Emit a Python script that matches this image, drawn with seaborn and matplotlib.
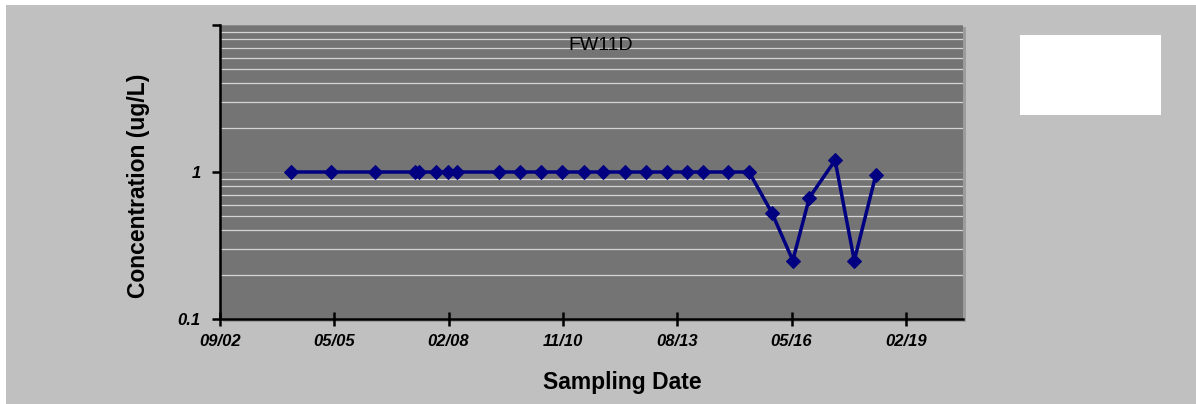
import matplotlib
matplotlib.use("Agg")
import matplotlib.pyplot as plt
import matplotlib.dates as mdates
from matplotlib.ticker import FixedLocator, LogLocator, NullFormatter
from matplotlib.patches import Rectangle
from matplotlib.font_manager import FontProperties
import numpy as np
import pandas as pd
import seaborn as sns

# Sampling dates and measured concentrations for well FW11D
sample_dates = [
    "2004-05-15", "2005-05-02", "2006-05-16", "2007-05-07", "2007-06-08",
    "2007-11-01", "2008-02-18", "2008-05-04", "2009-05-06", "2009-11-06",
    "2010-05-06", "2010-11-06", "2011-05-20", "2011-11-05", "2012-05-13",
    "2012-11-10", "2013-05-13", "2013-11-10", "2014-03-30", "2014-11-04",
    "2015-05-04", "2015-11-19", "2016-05-21", "2016-10-13", "2017-05-26",
    "2017-11-10", "2018-05-18",
]
concentration = [
    1, 1, 1, 1, 1,
    1, 1, 1, 1, 1,
    1, 1, 1, 1, 1,
    1, 1, 1, 1, 1,
    1, 0.53, 0.25, 0.67, 1.2,
    0.25, 0.96,
]
well_name = "FW11D"
y_tick_values = [0.1, 1, 10]
y_tick_labels = ["0.1", "1", ""]
x_start = "2002-09-01"
x_end = "2020-06-18"
x_tick_step_days = 1000
x_tick_count = 7

df = pd.DataFrame({"date": pd.to_datetime(sample_dates), "conc": concentration})

W, H = 1196, 404
fig = plt.figure(figsize=(W / 100, H / 100), dpi=100)
fig.patch.set_facecolor("white")

# chart area backdrop (light gray), soft shadow behind the plot area, empty legend box
fig.patches.append(Rectangle((6 / W, 0), 1 - 6 / W, 1 - 5 / H, transform=fig.transFigure,
                             facecolor="#c0c0c0", edgecolor="none", zorder=-10))
fig.patches.append(Rectangle((223 / W, 1 - 322 / H), (966 - 223) / W, (322 - 27) / H,
                             transform=fig.transFigure, facecolor="#9c9c9c",
                             edgecolor="none", zorder=-6))
fig.patches.append(Rectangle((1020 / W, 1 - 115 / H), 141 / W, 80 / H, transform=fig.transFigure,
                             facecolor="white", edgecolor="none", zorder=-5))

ax = fig.add_axes([220 / W, 1 - 319 / H, (963 - 220) / W, (319 - 25) / H])
ax.set_zorder(2)
ax.set_facecolor("#747474")

sns.lineplot(data=df, x="date", y="conc", ax=ax, color="#000080", linewidth=2.5,
             marker="D", markersize=7, markeredgecolor="#000080",
             markerfacecolor="#000080", estimator=None, zorder=5)

ax.set_yscale("log")
ax.set_ylim(0.1, 10)
ax.yaxis.set_major_locator(FixedLocator(y_tick_values))
ax.set_yticklabels(y_tick_labels)
ax.yaxis.set_minor_locator(LogLocator(base=10, subs=np.arange(2, 10)))
ax.yaxis.set_minor_formatter(NullFormatter())
ax.grid(which="minor", axis="y", color="#d4d4d4", linewidth=0.9)
ax.grid(which="major", axis="y", color="#8c8c8c", linewidth=0.7)
ax.grid(which="both", axis="x", visible=False)
ax.set_axisbelow(True)

x0 = pd.Timestamp(x_start)
ax.set_xlim(x0, pd.Timestamp(x_end))
xticks = pd.date_range(x0, periods=x_tick_count, freq=f"{x_tick_step_days}D")
ax.xaxis.set_major_locator(FixedLocator(mdates.date2num(xticks)))
ax.xaxis.set_major_formatter(mdates.DateFormatter("%m/%y"))

for side in ("top", "right"):
    ax.spines[side].set_visible(False)
for side in ("left", "bottom"):
    ax.spines[side].set_color("black")
    ax.spines[side].set_linewidth(1.8)

tick_font = FontProperties(family="Liberation Sans", weight="bold", style="italic", size=12)
ax.tick_params(axis="x", which="major", direction="inout", length=10, width=1.8,
               color="black", pad=6)
ax.tick_params(axis="y", which="major", direction="out", length=6, width=1.8,
               color="black", pad=8)
ax.tick_params(axis="y", which="minor", length=0)
for lbl in ax.get_xticklabels() + ax.get_yticklabels():
    lbl.set_fontproperties(tick_font)

label_font = dict(family="Liberation Sans", weight="bold", size=16.5)
ax.set_xlabel("Sampling Date", va="center", **label_font)
ax.set_ylabel("Concentration (ug/L)", va="center", **label_font)
ax.xaxis.set_label_coords((622 - 220) / 743, (319 - 382) / 294)
ax.yaxis.set_label_coords((139 - 220) / 743, (319 - 186) / 294)

ax.text((601 - 220) / 743, (319 - 46) / 294, well_name, transform=ax.transAxes,
        ha="center", va="center", family="Liberation Sans", size=14, color="black")

fig.savefig("out.png", dpi=100, facecolor=fig.get_facecolor())
